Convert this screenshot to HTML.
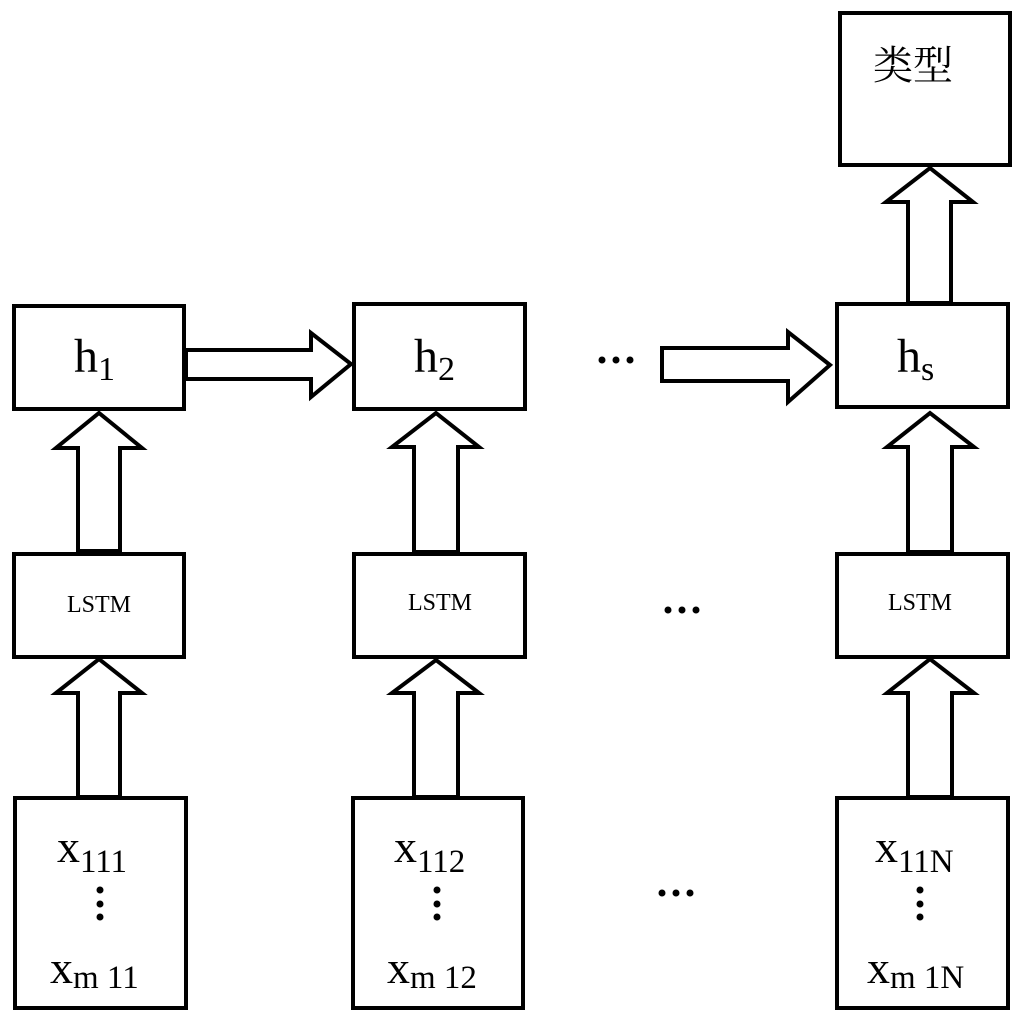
<!DOCTYPE html>
<html><head><meta charset="utf-8"><style>
html,body{margin:0;padding:0;background:#fff;}
svg{display:block;}
text{font-family:"Liberation Serif","Noto Serif CJK SC",serif;fill:#000;}
</style></head><body>
<svg width="1027" height="1026" viewBox="0 0 1027 1026" xmlns="http://www.w3.org/2000/svg">
<g fill="#fff" stroke="#000" stroke-width="4" stroke-linejoin="miter">
<!-- boxes -->
<rect x="840" y="13" width="170" height="152"/>
<rect x="14" y="306" width="170" height="103"/>
<rect x="354" y="304" width="171" height="105"/>
<rect x="837" y="304" width="171" height="103"/>
<rect x="14" y="554" width="170" height="103"/>
<rect x="354" y="554" width="171" height="103"/>
<rect x="837" y="554" width="171" height="103"/>
<rect x="15" y="798" width="171" height="210"/>
<rect x="353" y="798" width="170" height="210"/>
<rect x="837" y="798" width="171" height="210"/>
<!-- up arrows col1 -->
<polygon points="78,551 78,448 56,448 99,413 142,448 120,448 120,551"/>
<polygon points="78,797 78,693 56,693 99,659 142,693 120,693 120,797"/>
<!-- col2 -->
<polygon points="414,552 414,447 392,447 436,413 479,447 458,447 458,552"/>
<polygon points="414,797 414,693 392,693 436,660 479,693 458,693 458,797"/>
<!-- col3 -->
<polygon points="908,552 908,447 887,447 930,413 974,447 952,447 952,552"/>
<polygon points="908,797 908,693 887,693 930,659 974,693 952,693 952,797"/>
<!-- top arrow -->
<polygon points="908,303 908,202 886,202 930,168 973,202 951,202 951,303"/>
<!-- horizontal arrows -->
<polygon points="186,350 311,350 311,333 351,364 311,397 311,379 186,379"/>
<polygon points="662,348 788,348 788,332 830,365 788,402 788,381 662,381"/>
</g>
<g fill="#000">
<circle cx="602" cy="360" r="3.5"/><circle cx="616" cy="360" r="3.5"/><circle cx="630" cy="360" r="3.5"/>
<circle cx="668" cy="610" r="3.5"/><circle cx="682" cy="610" r="3.5"/><circle cx="696" cy="610" r="3.5"/>
<circle cx="662" cy="893" r="3.5"/><circle cx="676" cy="893" r="3.5"/><circle cx="690" cy="893" r="3.5"/>
<circle cx="100" cy="890" r="3.5"/><circle cx="100" cy="904" r="3.5"/><circle cx="100" cy="917" r="3.5"/>
<circle cx="437" cy="890" r="3.5"/><circle cx="437" cy="904" r="3.5"/><circle cx="437" cy="917" r="3.5"/>
<circle cx="920" cy="890" r="3.5"/><circle cx="920" cy="904" r="3.5"/><circle cx="920" cy="917" r="3.5"/>
</g>
<text x="873" y="79" font-size="40">类型</text>
<text x="74" y="372" font-size="48">h<tspan font-size="34" dy="8">1</tspan></text>
<text x="414" y="372" font-size="48">h<tspan font-size="34" dy="8">2</tspan></text>
<text x="897" y="372" font-size="48">h<tspan font-size="34" dy="8">s</tspan></text>
<text x="99" y="612" font-size="24" text-anchor="middle">LSTM</text>
<text x="440" y="610" font-size="24" text-anchor="middle">LSTM</text>
<text x="920" y="610" font-size="24" text-anchor="middle">LSTM</text>
<text x="57" y="862" font-size="46">x<tspan font-size="33" dy="10">111</tspan></text>
<text x="50" y="983" font-size="46">x<tspan font-size="33" dy="5">m 11</tspan></text>
<text x="394" y="862" font-size="46">x<tspan font-size="33" dy="10">112</tspan></text>
<text x="387" y="983" font-size="46">x<tspan font-size="33" dy="5">m 12</tspan></text>
<text x="875" y="862" font-size="46">x<tspan font-size="33" dy="10">11N</tspan></text>
<text x="867" y="983" font-size="46">x<tspan font-size="33" dy="5">m 1N</tspan></text>
</svg>
</body></html>
